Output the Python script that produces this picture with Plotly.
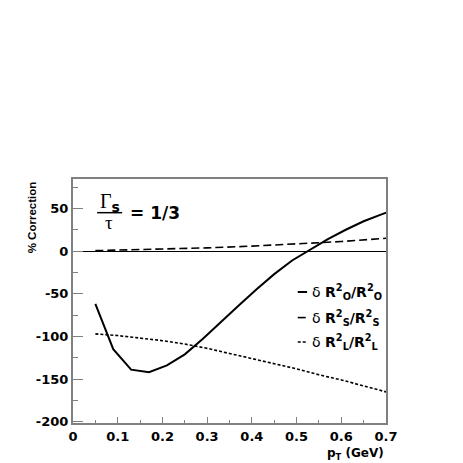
import plotly.graph_objects as go

# pT values (GeV)
pt = [0.05, 0.09, 0.13, 0.17, 0.21, 0.25, 0.29, 0.33, 0.37, 0.41, 0.45,
      0.49, 0.53, 0.57, 0.61, 0.65, 0.69, 0.70]
corr_o = [-62, -115, -139, -142, -134, -121, -103, -83, -64, -45, -27,
          -11, 2, 14, 25, 35, 43, 45]

pt_s = [0.05, 0.1, 0.2, 0.3, 0.4, 0.5, 0.6, 0.7]
corr_s = [0.5, 1.0, 2.2, 3.8, 5.8, 8.2, 11.2, 15.0]

pt_l = [0.05, 0.1, 0.15, 0.2, 0.25, 0.3, 0.35, 0.4, 0.45, 0.5, 0.55, 0.6, 0.65, 0.7]
corr_l = [-97, -99, -102, -105, -109, -114, -120, -126, -132, -138, -145, -151, -158, -165]

xticks = [0, 0.1, 0.2, 0.3, 0.4, 0.5, 0.6, 0.7]
xticklabels = ['0', '0.1', '0.2', '0.3', '0.4', '0.5', '0.6', '0.7']
yticks = [-200, -150, -100, -50, 0, 50]
yticklabels = ['-200', '-150', '-100', '-50', '0', '50']

legend_labels = [
    "δ <b>R<sup>2</sup><sub>O</sub>/R<sup>2</sup><sub>O</sub></b>",
    "δ <b>R<sup>2</sup><sub>S</sub>/R<sup>2</sup><sub>S</sub></b>",
    "δ <b>R<sup>2</sup><sub>L</sub>/R<sup>2</sup><sub>L</sub></b>",
]
styles = [dict(width=2, dash="solid"),
          dict(width=1.6, dash="8px,4px"),
          dict(width=1.6, dash="3px,2px")]

SANS = 'DejaVu Sans'
SERIF = 'Liberation Serif'

fig = go.Figure()
for xs, ys, st in zip([pt, pt_s, pt_l], [corr_o, corr_s, corr_l], styles):
    fig.add_trace(go.Scatter(x=xs, y=ys, mode='lines',
                             line=dict(color='black', **st),
                             showlegend=False))

# hand made legend, ROOT style
leg_y = [0.537, 0.432, 0.332]
for lab, st, yy in zip(legend_labels, styles, leg_y):
    fig.add_shape(type='line', xref='paper', yref='paper',
                  x0=0.718, x1=0.748, y0=yy, y1=yy,
                  line=dict(color='black', **st))
    fig.add_annotation(text=lab, xref='paper', yref='paper', x=0.758, y=yy,
                       xanchor='left', yanchor='middle', showarrow=False,
                       font=dict(size=14, color='black', family=SANS))

# Gamma_s / tau = 1/3
fig.add_annotation(text="Γ<sub><span style=\"font-family:DejaVu Sans;font-weight:bold\">s</span></sub>",
                   xref='paper', yref='paper',
                   x=0.118, y=0.905, xanchor='center', yanchor='middle',
                   showarrow=False,
                   font=dict(size=20, color='black', family=SERIF))
fig.add_shape(type='line', xref='paper', yref='paper',
              x0=0.077, x1=0.157, y0=0.862, y1=0.862,
              line=dict(color='black', width=1.5))
fig.add_annotation(text="τ", xref='paper', yref='paper',
                   x=0.115, y=0.82, xanchor='center', yanchor='middle',
                   showarrow=False,
                   font=dict(size=19, color='black', family=SERIF))
fig.add_annotation(text="<b>= 1/3</b>", xref='paper', yref='paper',
                   x=0.175, y=0.86, xanchor='left', yanchor='middle',
                   showarrow=False, font=dict(size=17, color='black', family=SANS))

# axis titles
fig.add_annotation(text="<b>% Correction</b>", xref='paper', yref='paper',
                   x=-0.13, y=1.0, xanchor='center', yanchor='top',
                   textangle=-90, showarrow=False,
                   font=dict(size=11.5, color='black', family='Liberation Sans'))
fig.add_annotation(text="<b>p<sub>T</sub> (GeV)</b>", xref='paper', yref='paper',
                   x=1.0, y=-0.088, xanchor='right', yanchor='top',
                   showarrow=False, font=dict(size=12, color='black', family=SANS))

fig.update_xaxes(range=[0, 0.7], showgrid=False, zeroline=False,
                 showline=True, linecolor='#808080', linewidth=2, mirror=True,
                 ticks='inside', ticklen=6, tickcolor='#808080',
                 tickvals=xticks, ticktext=xticklabels,
                 minor=dict(dtick=0.05, ticks='inside', ticklen=3,
                            tickcolor='#808080'),
                 tickfont=dict(size=13, color='black', family=SANS, weight='bold'))
fig.update_yaxes(range=[-201.5, 84.5], showgrid=False,
                 zeroline=True, zerolinecolor='black', zerolinewidth=1,
                 showline=True, linecolor='#808080', linewidth=2, mirror=True,
                 ticks='inside', ticklen=10, tickcolor='#808080',
                 tickvals=yticks, ticktext=yticklabels,
                 minor=dict(dtick=25, ticks='inside', ticklen=5,
                            tickcolor='#808080'),
                 tickfont=dict(size=13, color='black', family=SANS, weight='bold'))

# the page body adds an 8px offset, so margins are shifted to compensate
fig.update_layout(width=463, height=463,
                  margin=dict(l=65, r=85, t=171, b=48),
                  paper_bgcolor='white', plot_bgcolor='white',
                  font=dict(family=SANS, color='black'),
                  showlegend=False)

fig.write_html("out.html")
